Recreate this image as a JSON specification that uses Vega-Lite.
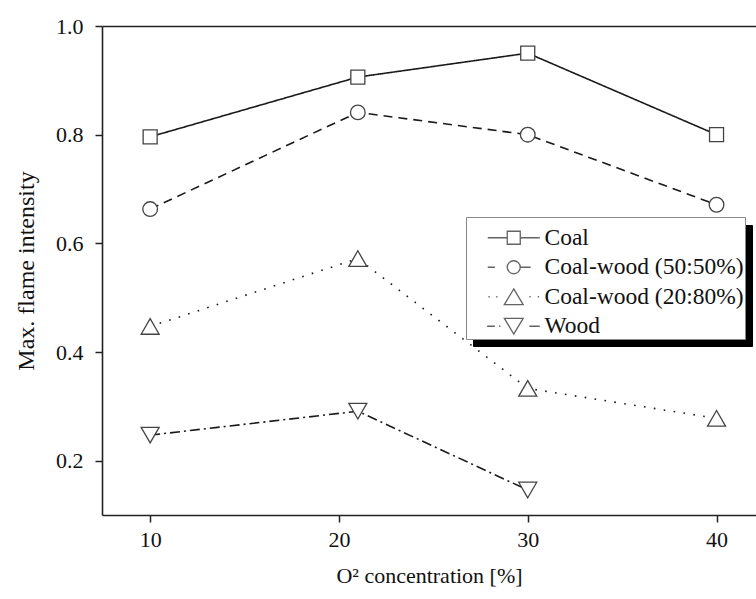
{
  "$schema": "https://vega.github.io/schema/vega-lite/v6.json",
  "width": 654,
  "height": 489,
  "autosize": {"type": "none"},
  "padding": {"left": 102, "top": 26, "right": 0, "bottom": 84},
  "background": "white",
  "config": {
    "view": {"stroke": null},
    "font": "Liberation Serif",
    "style": {"guide-label": {"font": "Liberation Serif"}, "guide-title": {"font": "Liberation Serif"}},
    "axis": {"labelFont": "Liberation Serif", "titleFont": "Liberation Serif", "labelColor": "#111", "titleColor": "#111", "titleFontWeight": "normal", "domainColor": "#222", "tickColor": "#222", "domainWidth": 1.6, "tickWidth": 1.5, "grid": false},
    "legend": {"labelFont": "Liberation Serif", "titleFont": "Liberation Serif", "labelFontSize": 23.5, "labelLimit": 400, "orient": "none"}
  },
  "data": {
    "values": [
      {"series": "Coal", "o2": 10, "intensity": 0.796},
      {"series": "Coal", "o2": 21, "intensity": 0.906},
      {"series": "Coal", "o2": 30, "intensity": 0.950},
      {"series": "Coal", "o2": 40, "intensity": 0.800},
      {"series": "Coal-wood (50:50%)", "o2": 10, "intensity": 0.663},
      {"series": "Coal-wood (50:50%)", "o2": 21, "intensity": 0.841},
      {"series": "Coal-wood (50:50%)", "o2": 30, "intensity": 0.800},
      {"series": "Coal-wood (50:50%)", "o2": 40, "intensity": 0.671},
      {"series": "Coal-wood (20:80%)", "o2": 10, "intensity": 0.447},
      {"series": "Coal-wood (20:80%)", "o2": 21, "intensity": 0.572},
      {"series": "Coal-wood (20:80%)", "o2": 30, "intensity": 0.333},
      {"series": "Coal-wood (20:80%)", "o2": 40, "intensity": 0.278},
      {"series": "Wood", "o2": 10, "intensity": 0.247},
      {"series": "Wood", "o2": 21, "intensity": 0.291},
      {"series": "Wood", "o2": 30, "intensity": 0.146}
    ]
  },
  "layer": [
    {
      "mark": {"type": "line", "color": "#1a1a1a", "strokeWidth": 1.6},
      "encoding": {
        "x": {"field": "o2", "type": "quantitative", "scale": {"domain": [7.45, 42.09], "nice": false, "zero": false},
          "axis": {"orient": "bottom", "values": [10, 20, 30, 40], "labelFontSize": 22, "tickSize": 7, "labelPadding": 7, "title": "O² concentration [%]", "titleFontSize": 22, "titlePadding": 15}},
        "y": {"field": "intensity", "type": "quantitative", "scale": {"domain": [0.1, 1.0], "nice": false, "zero": false},
          "axis": {"values": [0.2, 0.4, 0.6, 0.8, 1.0], "format": ".1f", "labelFontSize": 22, "tickSize": 7, "labelPadding": 12, "title": "Max. flame intensity", "titleFontSize": 24, "titlePadding": 17}},
        "strokeDash": {"field": "series", "type": "nominal",
          "scale": {"domain": ["Coal", "Coal-wood (50:50%)", "Coal-wood (20:80%)", "Wood"], "range": [[1, 0], [9, 6], [1.6, 8.4], [10, 4, 2, 4]]},
          "legend": {"orient": "none", "legendX": 371, "legendY": 199, "title": " ", "titleFontSize": 4, "titlePadding": 4, "fillColor": "black", "strokeColor": "black", "padding": 1, "rowPadding": 5, "symbolSize": 576, "symbolType": "square", "symbolOpacity": 0, "symbolStrokeWidth": 0, "symbolOffset": 254, "labelOffset": 0, "labelFontSize": 23, "labelExpr": "''"}}
      }
    },
    {
      "mark": {"type": "point", "filled": true, "fill": "white", "stroke": "#444", "strokeWidth": 1.3, "opacity": 1},
      "encoding": {
        "x": {"field": "o2", "type": "quantitative",
          "axis": {"orient": "top", "labels": false, "ticks": false, "title": null, "domain": true}},
        "y": {"field": "intensity", "type": "quantitative"},
        "shape": {"field": "series", "type": "nominal", "legend": null,
          "scale": {"domain": ["Coal", "Coal-wood (50:50%)", "Coal-wood (20:80%)", "Wood"], "range": ["square", "circle", "triangle-up", "triangle-down"]}},
        "size": {"field": "series", "type": "ordinal", "legend": null,
          "scale": {"type": "ordinal", "domain": ["Coal", "Coal-wood (50:50%)", "Coal-wood (20:80%)", "Wood"], "range": [196, 215, 324, 324]}}
      }
    },
    {
      "transform": [{"filter": "datum.o2 < 0"}],
      "mark": {"type": "point", "filled": false, "color": "#222", "strokeWidth": 1.3},
      "encoding": {
        "x": {"field": "o2", "type": "quantitative", "axis": null},
        "y": {"field": "intensity", "type": "quantitative"},
        "shape": {"field": "series", "type": "nominal",
          "scale": {"domain": ["Coal", "Coal-wood (50:50%)", "Coal-wood (20:80%)", "Wood"],
            "range": [
              "M-4,0H-1M1,0H4M-1,-1H1V1H-1Z",
              "M-4,0H-2.9M1,0H2.6M-1,0A1,1 0 1,1 1,0A1,1 0 1,1 -1,0Z",
              "M-3.9,0H-3.7M-2.7,0H-2.5M2.4,0H2.6M3.7,0H3.9M0,-1.2L1.45,1.2L-1.45,1.2Z",
              "M-4.1,0H-2.9M-2.25,0H-2.05M2.4,0H4M0,1.2L1.45,-1.2L-1.45,-1.2Z"
            ]},
          "legend": {"orient": "none", "legendX": 364, "legendY": 191, "title": " ", "titleFontSize": 4, "titlePadding": 4, "fillColor": "white", "strokeColor": "#888", "padding": 1, "rowPadding": 4.5, "symbolSize": 169, "symbolStrokeWidth": 1.3, "symbolStrokeColor": "#222", "symbolOffset": 35, "labelOffset": 19, "labelFont": "Liberation Serif", "labelFontSize": 23.5, "labelLimit": 400, "labelColor": "#111"}}
      }
    }
  ],
  "resolve": {"scale": {"shape": "independent"}, "axis": {"x": "independent"}}
}
